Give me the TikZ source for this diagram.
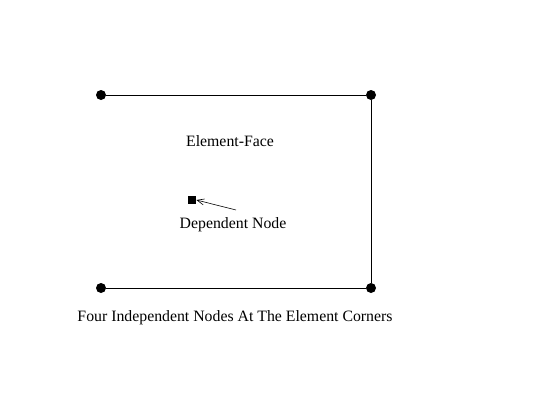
\documentclass[tikz,border=0pt]{standalone}
\usepackage{fontspec}
\setmainfont{Liberation Serif}
\usetikzlibrary{arrows.meta}

\begin{document}
\begin{tikzpicture}[x=1pt, y=-1pt, line width=0.8pt]
\useasboundingbox (0,0) rectangle (543,407);
\tikzset{corner/.style={circle, fill, inner sep=0, minimum size=10pt},
         lbl/.style={font=\fontsize{15.8}{18}\selectfont, inner sep=0}}
\node[corner] (c1) at (101,95) {};
\node[corner] (c2) at (371,95) {};
\node[corner] (c3) at (371,288) {};
\node[corner] (c4) at (101,288) {};
\node[fill, inner sep=0, minimum size=8pt] (dep) at (192,200) {};
\node[lbl] (face) at (230,141) {Element-Face};
\node[lbl] (deplbl) at (233,225) {Dependent Node};
\node[lbl] (cornlbl) at (235,318) {Four Independent Nodes At The Element Corners};
\coordinate (tail) at (236,210);
\draw (c1)--(c2);
\draw (c2)--(c3);
\draw (c3)--(c4);
% pointer to the dependent node:
\draw [-{Straight Barb[length=7pt, width=6pt]}, line width=0.6pt] (tail)--(dep.east);
\end{tikzpicture}
\end{document}
